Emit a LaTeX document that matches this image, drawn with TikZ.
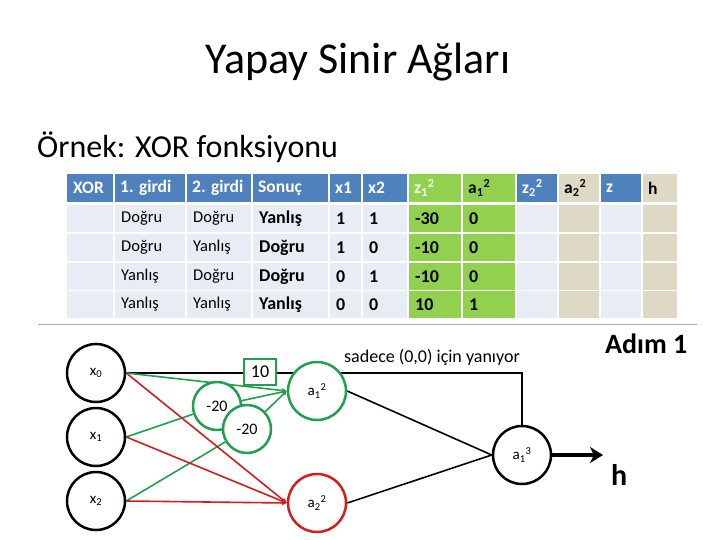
\documentclass[tikz,border=0pt]{standalone}
\usepackage{fontspec}
\setmainfont{Carlito}
\usetikzlibrary{arrows.meta,backgrounds}
\definecolor{hblue}{RGB}{79,129,189}
\definecolor{bodyc}{RGB}{232,236,244}
\definecolor{tgreen}{RGB}{146,208,80}
\definecolor{beige}{RGB}{221,217,196}
\definecolor{ngreen}{RGB}{34,160,80}
\definecolor{nred}{RGB}{210,30,30}
\definecolor{rulegray}{RGB}{170,170,170}
\begin{document}
\begin{tikzpicture}[x=1pt,y=-1pt,
  htxt/.style={anchor=west,inner sep=0pt,font=\fontsize{17.5}{20}\selectfont\bfseries},
  btxt/.style={anchor=west,inner sep=0pt,font=\fontsize{16.5}{19}\selectfont},
  bbtxt/.style={anchor=west,inner sep=0pt,font=\fontsize{18}{20}\selectfont\bfseries},
  neuron/.style={circle,draw,line width=2.5pt,minimum size=58pt,inner sep=0pt,fill=white,font=\fontsize{15}{17}\selectfont},
  weight/.style={circle,draw=ngreen,line width=2.5pt,minimum size=48pt,inner sep=0pt,fill=white,font=\fontsize{16}{18}\selectfont},
  gline/.style={draw=ngreen,line width=1.6pt,-{Stealth[length=5pt,width=5pt]}},
  gplain/.style={draw=ngreen,line width=1.6pt},
  rline/.style={draw=nred,line width=1.6pt,-{Stealth[length=5pt,width=5pt]}},
  kline/.style={draw=black,line width=1.6pt}]
\useasboundingbox (0,0) rectangle (720,540);
\begin{scope}[on background layer]
\fill[white] (0,0) rectangle (720,540);
\end{scope}

% titles
\node[anchor=base,inner sep=0pt,font=\fontsize{44}{50}\selectfont] (title) at (358,74) {Yapay Sinir Ağları};
\node[anchor=base west,inner sep=0pt,font=\fontsize{32}{36}\selectfont] (sub) at (37,158) {Örnek: XOR fonksiyonu};

% table header fills
\foreach \l/\r/\c in {67/113/hblue,115/185/hblue,187/251/hblue,253/328/hblue,330/361/hblue,363/407/hblue,409/461/tgreen,463/515/tgreen,517/557/hblue,559/599/beige,601/641/hblue,643/677/beige}{
  \fill[\c] (\l,174) rectangle (\r,202);
}
% table body fills
\foreach \t/\b in {205/232,234/261,263/290,291/318}{
  \foreach \l/\r/\c in {67/113/bodyc,115/185/bodyc,187/251/bodyc,253/328/bodyc,330/361/bodyc,363/407/bodyc,409/461/tgreen,463/515/tgreen,517/557/bodyc,559/599/beige,601/641/bodyc,643/677/beige}{
    \fill[\c] (\l,\t) rectangle (\r,\b);
  }
}
% header texts
\node[htxt,white] (h1) at (73,188) {XOR};
\node[htxt,white] (h2) at (120,188) {1. girdi};
\node[htxt,white] (h3) at (192,188) {2. girdi};
\node[htxt,white] (h4) at (258,188) {Sonuç};
\node[htxt,white] (h5) at (335,188) {x1};
\node[htxt,white] (h6) at (368,188) {x2};
\node[htxt,white] (h7) at (414,188) {z\textsubscript{1}\textsuperscript{2}};
\node[htxt,black] (h8) at (468,188) {a\textsubscript{1}\textsuperscript{2}};
\node[htxt,white] (h9) at (522,188) {z\textsubscript{2}\textsuperscript{2}};
\node[htxt,black] (h10) at (564,188) {a\textsubscript{2}\textsuperscript{2}};
\node[htxt,white] (h11) at (606,188) {z};
\node[htxt,black] (h12) at (648,188) {h};

% body texts
\foreach \y/\a/\b/\s/\p/\q/\z/\v [count=\i] in {218.5/Doğru/Doğru/Yanlış/1/1/-30/0,247.5/Doğru/Yanlış/Doğru/1/0/-10/0,276.5/Yanlış/Doğru/Doğru/0/1/-10/0,304.5/Yanlış/Yanlış/Yanlış/0/0/10/1}{
  \node[btxt] (r\i c2) at (121,\y) {\a};
  \node[btxt] (r\i c3) at (193,\y) {\b};
  \node[bbtxt] (r\i c4) at (259,\y) {\s};
  \node[bbtxt] (r\i c5) at (336,\y) {\p};
  \node[bbtxt] (r\i c6) at (369,\y) {\q};
  \node[bbtxt] (r\i c7) at (415,\y) {\z};
  \node[bbtxt] (r\i c8) at (469,\y) {\v};
}

% rule under table
\coordinate (ruleL) at (38,324);
\coordinate (ruleR) at (697,324);
\draw[rulegray,line width=1pt] (ruleL) -- (ruleR);

% network nodes
\node[neuron] (x0) at (96,373) {x\textsubscript{0}};
\node[neuron] (x1) at (96,437) {x\textsubscript{1}};
\node[neuron] (x2) at (96,501) {x\textsubscript{2}};
\node[neuron,draw=ngreen] (a12) at (317,391) {a\textsubscript{1}\textsuperscript{2}};
\node[neuron,draw=nred] (a22) at (317,503) {a\textsubscript{2}\textsuperscript{2}};
\node[neuron] (a13) at (522,455) {a\textsubscript{1}\textsuperscript{3}};
\node[weight] (w1) at (217,406) {-20};
\node[weight] (w2) at (247,429) {-20};
\node[rectangle,draw=ngreen,line width=2.5pt,fill=white,minimum width=32pt,minimum height=26pt,inner sep=0pt,font=\fontsize{18}{20}\selectfont] (b10) at (260,372) {10};

\node[anchor=base,inner sep=0pt,font=\fontsize{18}{20}\selectfont] (lbl) at (432,362) {sadece (0,0) için yanıyor};
\node[anchor=base west,inner sep=0pt,font=\fontsize{28}{32}\selectfont\bfseries] (adim) at (605,353) {Adım 1};
\node[anchor=base west,inner sep=0pt,font=\fontsize{30}{34}\selectfont\bfseries] (hout) at (611,485) {h};
\coordinate (hend) at (603,455);

% connectors
\begin{scope}[on background layer]
\draw[kline] (x0.east) -- (x0.east -| a13) -- (a13.north);
\draw[gline] (x0.east) -- (a12.west);
\draw[gplain] (x1.east) -- (w1);
\draw[gline] (w1) -- (a12.west);
\draw[gplain] (x2.east) -- (w2);
\draw[gline] (w2) -- (a12.west);
\draw[rline] (x0.east) -- (a22.west);
\draw[rline] (x1.east) -- (a22.west);
\draw[rline] (x2.east) -- (a22.west);
\draw[kline] (a12.east) -- (a13.west);
\draw[kline] (a22.east) -- (a13.west);
\end{scope}
\draw[line width=4pt,-{Stealth[length=13pt,width=16pt,inset=4pt]}] (a13.east) -- (hend);
\end{tikzpicture}
\end{document}
